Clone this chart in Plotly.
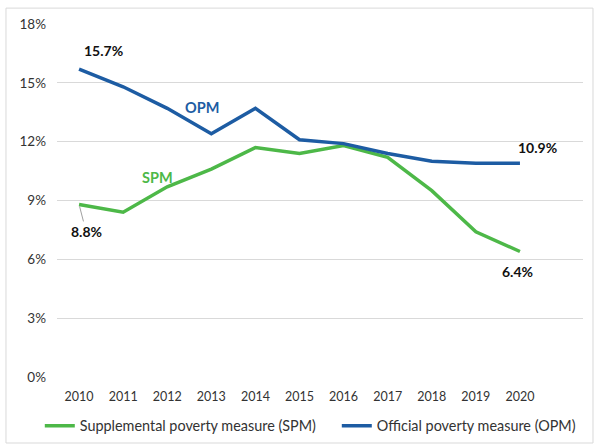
import plotly.graph_objects as go

years = [2010, 2011, 2012, 2013, 2014, 2015, 2016, 2017, 2018, 2019, 2020]
spm = [8.8, 8.4, 9.7, 10.6, 11.7, 11.4, 11.8, 11.2, 9.5, 7.4, 6.4]
opm = [15.7, 14.8, 13.7, 12.4, 13.7, 12.1, 11.9, 11.4, 11.0, 10.9, 10.9]
y_ticks = [0, 3, 6, 9, 12, 15, 18]
y_tick_labels = [f"{v}%" for v in y_ticks]

SPM_COLOR = "#4DB848"
OPM_COLOR = "#1D5CA3"
FONT = "Lato, Open Sans, sans-serif"

fig = go.Figure()
fig.add_trace(go.Scatter(
    x=years, y=spm, mode="lines", name="Supplemental poverty measure (SPM)",
    line=dict(color=SPM_COLOR, width=3.5), legend="legend",
))
fig.add_trace(go.Scatter(
    x=years, y=opm, mode="lines", name="Official poverty measure (OPM)",
    line=dict(color=OPM_COLOR, width=3.5), legend="legend2",
))

label_font = dict(family=FONT, size=14, color="#111111")
# point value labels
fig.add_annotation(x=years[0], y=opm[0], text=f"<b>{opm[0]}%</b>", showarrow=False,
                   xanchor="left", yanchor="bottom", xshift=3, yshift=8, font=label_font)
fig.add_annotation(x=years[-1], y=opm[-1], text=f"<b>{opm[-1]}%</b>", showarrow=False,
                   xanchor="left", yanchor="middle", xshift=-4, yshift=16, font=label_font)
fig.add_annotation(x=years[-1], y=spm[-1], text=f"<b>{spm[-1]}%</b>", showarrow=False,
                   xanchor="center", yanchor="top", xshift=-2, yshift=-10, font=label_font)
fig.add_annotation(x=years[0], y=spm[0], text=f"<b>{spm[0]}%</b>", showarrow=True,
                   arrowhead=0, arrowwidth=1, arrowcolor="#A0A0A0", ax=7, ay=27,
                   standoff=2, font=label_font)
# series name labels
fig.add_annotation(x=2012.79, y=13.72, text="<b>OPM</b>", showarrow=False,
                   font=dict(family=FONT, size=14.5, color=OPM_COLOR))
fig.add_annotation(x=2011.79, y=10.16, text="<b>SPM</b>", showarrow=False,
                   font=dict(family=FONT, size=14.5, color=SPM_COLOR))

# chart border
fig.add_shape(type="rect", xref="paper", yref="paper",
              x0=-0.097, x1=1.019, y0=-0.187, y1=1.045,
              line=dict(color="#D9D9D9", width=1), fillcolor="rgba(0,0,0,0)")

legend_style = dict(orientation="h", xanchor="left", xref="container",
                    y=0.043, yanchor="middle", yref="container",
                    font=dict(size=14.4), itemwidth=30)

fig.update_layout(
    width=594, height=445,
    margin=dict(l=57, r=11, t=24, b=68, autoexpand=False),
    paper_bgcolor="white", plot_bgcolor="white",
    font=dict(family=FONT, size=13, color="#333333"),
    xaxis=dict(
        range=[2009.5, 2021.43], tickvals=years, showgrid=False, zeroline=False,
        showline=False, ticks="", tickfont=dict(size=12.5), automargin=False,
        ticklabelstandoff=10,
    ),
    yaxis=dict(
        range=[0, 18], tickvals=y_ticks, ticktext=y_tick_labels, showgrid=True,
        gridcolor="#D9D9D9", gridwidth=1, zeroline=False, showline=False,
        ticks="", tickfont=dict(size=13.5), automargin=False,
        ticklabelstandoff=10,
    ),
    legend=dict(x=0.067, **legend_style),
    legend2=dict(x=0.567, **legend_style),
    showlegend=True,
)

fig.write_html("out.html", config={"displayModeBar": False},
               post_script="document.body.style.margin='0';")
